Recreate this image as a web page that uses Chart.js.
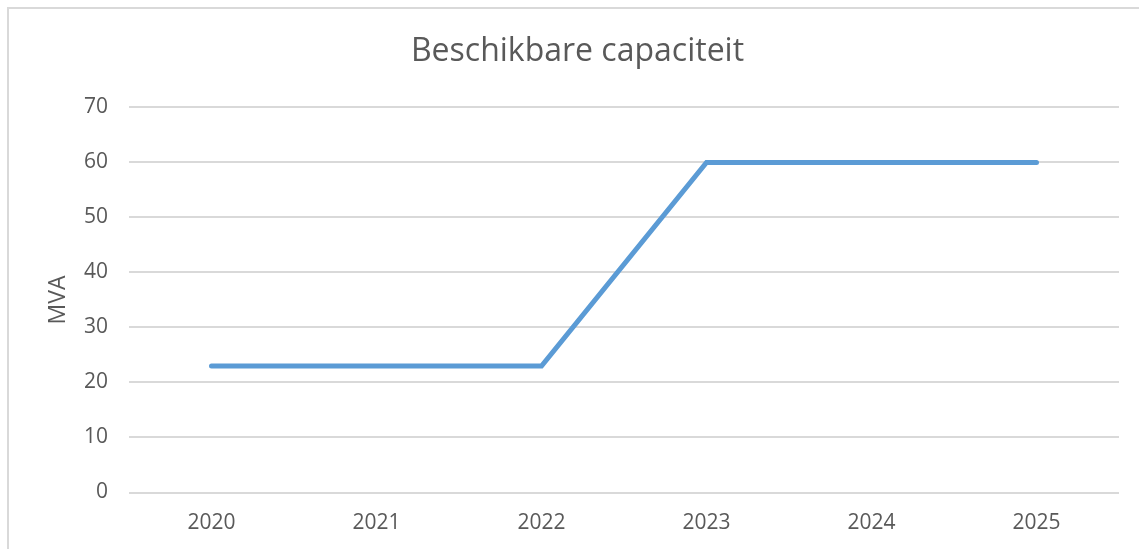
<!DOCTYPE html>
<html>
<head>
<meta charset="utf-8">
<script src="https://cdn.jsdelivr.net/npm/chart.js@4"></script>
<style>
  html, body { margin: 0; padding: 0; background: #ffffff; overflow: hidden; }
  #wrap { position: relative; width: 1139px; height: 549px; overflow: hidden; }
  #frame { position: absolute; left: 7px; top: 7px; width: 1300px; height: 700px; border: 2px solid #d9d9d9; box-sizing: border-box; }
  canvas { position: absolute; left: 0; top: 0; }
</style>
</head>
<body>
<div id="wrap">
  <div id="frame"></div>
  <canvas id="c" width="1139" height="549"></canvas>
</div>
<script>
const chartTitle = "Beschikbare capaciteit";
const yAxisTitle = "MVA";
const categories = ["2020", "2021", "2022", "2023", "2024", "2025"];
const capacity = [23, 23, 23, 60, 60, 60];
const yMin = 0, yMax = 70, yStep = 10;

const textColor = "#595959";
const fontFamily = "'Open Sans', sans-serif";

new Chart(document.getElementById("c"), {
  type: "line",
  data: {
    labels: categories,
    datasets: [{
      label: chartTitle,
      data: capacity,
      borderColor: "#5b9bd5",
      backgroundColor: "#5b9bd5",
      borderWidth: 5,
      borderCapStyle: "round",
      borderJoinStyle: "miter",
      pointRadius: 0,
      pointHoverRadius: 0,
      tension: 0,
      fill: false
    }]
  },
  options: {
    responsive: false,
    devicePixelRatio: 1,
    animation: false,
    events: [],
    layout: { padding: { left: 36, right: 20, top: 0, bottom: 0 } },
    plugins: {
      legend: { display: false },
      tooltip: { enabled: false },
      title: {
        display: true,
        text: chartTitle,
        color: textColor,
        font: { family: fontFamily, size: 32, weight: "normal" },
        padding: { top: 33, bottom: 36 }
      }
    },
    scales: {
      x: {
        type: "category",
        offset: true,
        grid: { display: false, drawTicks: false },
        border: { display: false },
        ticks: {
          color: textColor,
          font: { family: fontFamily, size: 21 },
          padding: 18,
          maxRotation: 0
        },
        afterFit: (s) => { s.height = 56.5; }
      },
      y: {
        min: yMin,
        max: yMax,
        grid: { color: "#d9d9d9", lineWidth: 2, drawTicks: false },
        border: { display: false },
        ticks: {
          stepSize: yStep,
          color: textColor,
          font: { family: fontFamily, size: 21 },
          padding: 21
        },
        title: {
          display: true,
          text: yAxisTitle,
          color: textColor,
          font: { family: fontFamily, size: 23 },
          padding: { top: 9, bottom: 0 }
        },
        afterFit: (s) => { s.width = 93; }
      }
    }
  }
});
</script>
</body>
</html>
